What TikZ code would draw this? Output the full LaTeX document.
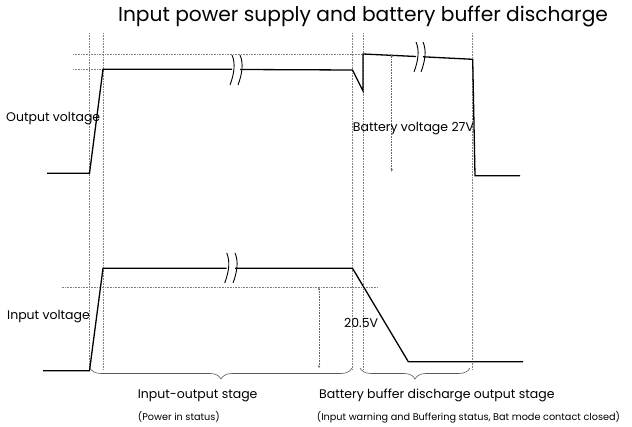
\documentclass[tikz,border=0pt]{standalone}
\usepackage{fontspec}
\setmainfont{Poppins}
\usetikzlibrary{arrows.meta, positioning, calc, decorations.pathreplacing}
\tikzset{
  wave/.style={line width=1.3pt, color=black, line join=miter},
  guide/.style={densely dotted, color=gray, line width=0.6pt},
  dim/.style={densely dotted, color=gray!80!black, line width=0.6pt,
              {Stealth[length=3pt,width=2.4pt]}-{Stealth[length=3pt,width=2.4pt]}},
  brk/.style={line width=0.9pt, color=black},
  lbl/.style={font=\fontsize{12.5}{15}\selectfont, inner sep=0pt, anchor=west},
  note/.style={font=\fontsize{9.7}{11}\selectfont, inner sep=0pt, anchor=west},
}
\begin{document}
\begin{tikzpicture}[x=1pt,y=-1pt,
stage/.style={decorate, decoration={brace, mirror, amplitude=11pt}, color=gray!70!black, line width=0.6pt}]
\useasboundingbox (0,0) rectangle (632,427);
\node[font=\fontsize{20.2}{24}\selectfont] (title) at (363,17) {Input power supply and battery buffer discharge};
% guide lines
\foreach \x in {89.5,103,352.5,363,472.5}
\draw[guide] (\x,33)--(\x,370);
\draw[guide] (73,54)--(363,54);
\draw[guide] (73,69.3)--(103,69.3);
\draw[guide] (61.7,287.3)--(378,287.3);
% output voltage
\draw[wave] (47,173.3)--(89.5,173.3)--(103,69.3)--(232,69.3);
\draw[wave] (240,69.5)--(352.5,70)--(363,91)--(363,54)--(416,56.5);
\draw[wave] (423,56.8)--(472.7,59.3)--(475,175.7)--(520,175.7);
% input voltage
\draw[wave] (43,370.7)--(89.5,370.7)--(103,268.3)--(226.7,268.3);
\draw[wave] (235,268.3)--(352.5,268.3)--(408.3,361.7)--(523,361.7);
% breaks
\foreach \x/\y in {232/55,240/55,416/42,423/42,226.7/253,235/253}
\draw[brk] (\x,\y) .. controls (\x+3.5,\y+8) and (\x+2.5,\y+18) .. (\x-2,\y+30);
% levels
\coordinate (b27t) at (391.7,54);\coordinate (b27b) at (391.7,171.7);
\draw[dim] (b27t)--(b27b);
\coordinate (v20t) at (319,287.3);\coordinate (v20b) at (319,368.3);
\draw[dim] (v20t)--(v20b);
\node[lbl] (outv) at (6,119) {Output voltage};
\node[lbl] (inv) at (7,317) {Input voltage};
\node[lbl] (batv) at (352.7,129) {Battery voltage 27V};
\node[lbl] (v205) at (344,323) {20.5V};
% stages
\coordinate (s1a) at (90,368);\coordinate (s1b) at (352,368);
\coordinate (s2a) at (360,368);\coordinate (s2b) at (470,368);
\draw[stage] (s1a)--(s1b);
\draw[stage] (s2a)--(s2b);
\node[lbl] (iostage) at (137.7,396) {Input-output stage};
\node[note] (iostat) at (137.7,417) {(Power in status)};
\node[lbl] (bbstage) at (319,395) {Battery buffer discharge output stage};
\node[note] (bbstat) at (316.7,417) {(Input warning and Buffering status, Bat mode contact closed)};
\end{tikzpicture}
\end{document}
